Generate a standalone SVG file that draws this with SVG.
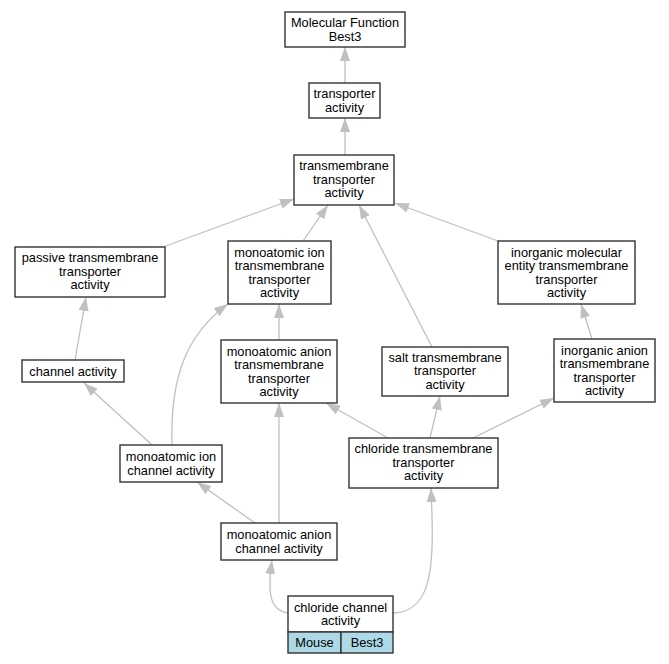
<svg xmlns="http://www.w3.org/2000/svg" width="669" height="664" viewBox="0 0 669 664">
<style>
.n rect{fill:#fff;stroke:#333;stroke-width:1.4}
.n rect.c{fill:#add8e6}
.n text{font-family:"Liberation Sans",Arial,sans-serif;font-size:12.8px;text-anchor:middle;fill:#000}
.e path{fill:none;stroke:#c0c0c0;stroke-width:1.3;marker-end:url(#a)}
</style>
<defs>
<marker id="a" viewBox="0 0 14 10" refX="14" refY="5" markerWidth="14" markerHeight="10" markerUnits="userSpaceOnUse" orient="auto">
<path d="M0,0 L14,5 L0,10 z" fill="#c0c0c0"/>
</marker>
</defs>
<rect width="669" height="664" fill="#fff"/>
<g id="edges" class="e">
<path d="M345,83 L345,47"/>
<path d="M345,155 L345,118"/>
<path d="M163,247 L294,199"/>
<path d="M303,241 L328,205"/>
<path d="M432,347 L359,205"/>
<path d="M498,241 L395,203"/>
<path d="M75,360 L86,297"/>
<path d="M152,445 L84,383"/>
<path d="M172,445 C170,380 185,335 228,304"/>
<path d="M279,340 L279,304"/>
<path d="M279,523 L279,403"/>
<path d="M255,523 L197,482"/>
<path d="M388,438 L326,403"/>
<path d="M430,438 L440,396"/>
<path d="M473,438 L554,398"/>
<path d="M592,339 L581,304"/>
<path d="M288,613 C268,610 268,590 272,560"/>
<path d="M393,613 C435,612 434,560 431,488"/>
</g>
<g id="mf" class="n"><rect x="285" y="12" width="120" height="35"/><text x="345" y="27">Molecular Function</text><text x="345" y="40.5">Best3</text></g>
<g id="ta" class="n"><rect x="309" y="83" width="71" height="35"/><text x="344.5" y="98">transporter</text><text x="344.5" y="111.5">activity</text></g>
<g id="tm" class="n"><rect x="294" y="155" width="100" height="50"/><text x="344" y="170">transmembrane</text><text x="344" y="183.5">transporter</text><text x="344" y="197">activity</text></g>
<g id="passive" class="n"><rect x="15" y="247" width="150" height="50"/><text x="90" y="262">passive transmembrane</text><text x="90" y="275.5">transporter</text><text x="90" y="289">activity</text></g>
<g id="mitm" class="n"><rect x="228" y="241" width="103" height="63"/><text x="279.5" y="256.5">monoatomic ion</text><text x="279.5" y="270">transmembrane</text><text x="279.5" y="283.5">transporter</text><text x="279.5" y="297">activity</text></g>
<g id="imet" class="n"><rect x="498" y="241" width="137" height="63"/><text x="566.5" y="256.5">inorganic molecular</text><text x="566.5" y="270">entity transmembrane</text><text x="566.5" y="283.5">transporter</text><text x="566.5" y="297">activity</text></g>
<g id="ch" class="n"><rect x="22" y="360" width="102" height="22"/><text x="73" y="375.5">channel activity</text></g>
<g id="matm" class="n"><rect x="221" y="340" width="116" height="63"/><text x="279" y="355.5">monoatomic anion</text><text x="279" y="369">transmembrane</text><text x="279" y="382.5">transporter</text><text x="279" y="396">activity</text></g>
<g id="salt" class="n"><rect x="382" y="347" width="126" height="49"/><text x="445" y="361.5">salt transmembrane</text><text x="445" y="375">transporter</text><text x="445" y="388.5">activity</text></g>
<g id="ia" class="n"><rect x="554" y="339" width="101" height="63"/><text x="604.5" y="354.5">inorganic anion</text><text x="604.5" y="368">transmembrane</text><text x="604.5" y="381.5">transporter</text><text x="604.5" y="395">activity</text></g>
<g id="ctm" class="n"><rect x="349" y="438" width="149" height="50"/><text x="423.5" y="453">chloride transmembrane</text><text x="423.5" y="466.5">transporter</text><text x="423.5" y="480">activity</text></g>
<g id="mic" class="n"><rect x="120" y="445" width="102" height="37"/><text x="171" y="461">monoatomic ion</text><text x="171" y="474.5">channel activity</text></g>
<g id="mac" class="n"><rect x="221" y="523" width="116" height="37"/><text x="279" y="539">monoatomic anion</text><text x="279" y="552.5">channel activity</text></g>
<g id="cc" class="n"><rect x="288" y="596" width="105" height="36"/><rect class="c" x="288" y="632" width="53" height="21"/><rect class="c" x="341" y="632" width="52" height="21"/><text x="340.5" y="611.5">chloride channel</text><text x="340.5" y="625">activity</text><text x="314.5" y="647">Mouse</text><text x="367" y="647">Best3</text></g>
</svg>
